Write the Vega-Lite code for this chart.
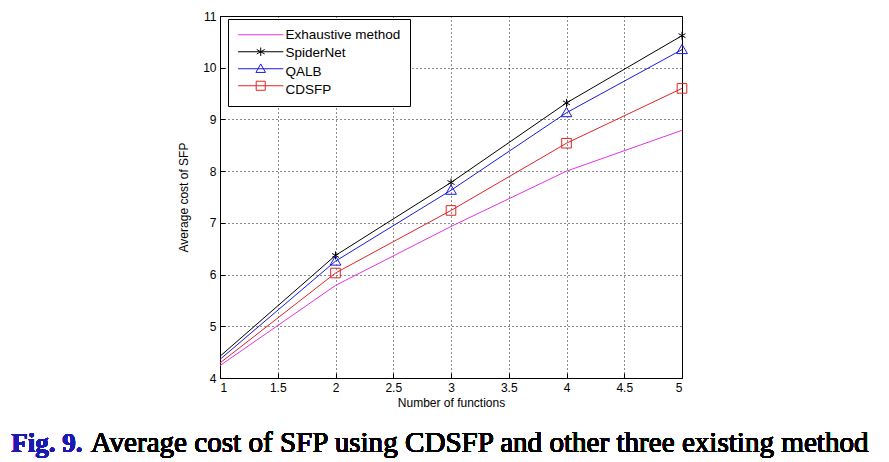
{
  "$schema": "https://vega.github.io/schema/vega-lite/v6.json",
  "autosize": "none",
  "width": 462,
  "height": 362,
  "padding": {"left": 220, "top": 16, "right": 207, "bottom": 84},
  "background": "white",
  "config": {
    "view": {"stroke": "black", "strokeWidth": 1},
    "axis": {
      "labelFont": "Liberation Sans",
      "labelFontSize": 12,
      "labelColor": "black",
      "titleFont": "Liberation Sans",
      "titleFontSize": 12,
      "titleFontWeight": "normal",
      "titleColor": "black",
      "domainColor": "black",
      "tickColor": "black",
      "gridColor": "black",
      "gridDash": [1, 3],
      "gridOpacity": 0.9
    },
    "legend": {
      "padding": 9,
      "symbolSize": 128,
      "symbolOffset": 0,
      "symbolStrokeWidth": 1,
      "symbolFillColor": "transparent",
      "labelOffset": 35,
      "labelFont": "Liberation Sans",
      "labelFontSize": 13.5,
      "labelColor": "black",
      "rowPadding": 3.5
    }
  },
  "data": {
    "values": [
      {"series": "Exhaustive method", "x": 1, "y": 4.24},
      {"series": "Exhaustive method", "x": 2, "y": 5.79},
      {"series": "Exhaustive method", "x": 3, "y": 6.93},
      {"series": "Exhaustive method", "x": 4, "y": 8.0},
      {"series": "Exhaustive method", "x": 5, "y": 8.79},
      {"series": "SpiderNet", "x": 1, "y": 4.42},
      {"series": "SpiderNet", "x": 2, "y": 6.37},
      {"series": "SpiderNet", "x": 3, "y": 7.78},
      {"series": "SpiderNet", "x": 4, "y": 9.32},
      {"series": "SpiderNet", "x": 5, "y": 10.62},
      {"series": "QALB", "x": 1, "y": 4.36},
      {"series": "QALB", "x": 2, "y": 6.26},
      {"series": "QALB", "x": 3, "y": 7.63},
      {"series": "QALB", "x": 4, "y": 9.13},
      {"series": "QALB", "x": 5, "y": 10.35},
      {"series": "CDSFP", "x": 1, "y": 4.29},
      {"series": "CDSFP", "x": 2, "y": 6.03},
      {"series": "CDSFP", "x": 3, "y": 7.24},
      {"series": "CDSFP", "x": 4, "y": 8.54},
      {"series": "CDSFP", "x": 5, "y": 9.60}
    ]
  },
  "encoding": {
    "x": {
      "field": "x", "type": "quantitative",
      "scale": {"domain": [1, 5], "nice": false, "zero": false},
      "axis": {"title": "Number of functions", "values": [1, 1.5, 2, 2.5, 3, 3.5, 4, 4.5, 5], "format": "~g", "tickSize": -5, "labelPadding": 9, "titlePadding": 4, "grid": true}
    },
    "y": {
      "field": "y", "type": "quantitative",
      "scale": {"domain": [4, 11], "nice": false, "zero": false},
      "axis": {"title": "Average cost of SFP", "values": [4, 5, 6, 7, 8, 9, 10, 11], "format": "~g", "tickSize": -5, "labelPadding": 9, "titlePadding": 12, "grid": true}
    }
  },
  "resolve": {"scale": {"shape": "independent"}, "legend": {"shape": "independent"}},
  "layer": [
    {
      "mark": {"type": "line", "strokeWidth": 1},
      "encoding": {
        "color": {
          "field": "series", "type": "nominal",
          "scale": {"domain": ["Exhaustive method", "SpiderNet", "QALB", "CDSFP"], "range": ["#e533e5", "#000000", "#1a1ae0", "#e02424"]},
          "legend": null
        },
        "detail": {"field": "series"}
      }
    },
    {
      "transform": [{"filter": "datum.series !== 'Exhaustive method' && datum.x >= 2"}],
      "mark": {"type": "point", "filled": false, "strokeWidth": 1, "opacity": 1, "size": 64},
      "encoding": {
        "color": {"field": "series", "type": "nominal", "legend": null},
        "shape": {
          "field": "series", "type": "nominal",
          "scale": {"domain": ["Exhaustive method", "SpiderNet", "QALB", "CDSFP"], "range": ["M0,0", "M0,-1V1M-0.87,-0.5L0.87,0.5M-0.87,0.5L0.87,-0.5", "M0,-1.3L1.35,1H-1.35Z", "M-1.2,-1.2H1.2V1.2H-1.2Z"]},
          "legend": null
        }
      }
    },
    {
      "transform": [{"filter": "false"}],
      "mark": {"type": "point", "filled": false, "strokeWidth": 1, "opacity": 1, "size": 128, "color": "#e533e5"},
      "encoding": {
        "shape": {
          "field": "series", "type": "nominal",
          "scale": {"domain": ["Exhaustive method", "SpiderNet", "QALB", "CDSFP"], "range": ["M-1,0H7", "M0,0", "M0,0", "M0,0"]},
          "legend": {"title": null, "orient": "none", "legendX": 8, "legendY": 3, "strokeColor": "black", "fillColor": "white"}
        }
      }
    },
    {
      "transform": [{"filter": "false"}],
      "mark": {"type": "point", "filled": false, "strokeWidth": 1, "opacity": 1, "size": 128, "color": "#000000"},
      "encoding": {
        "shape": {
          "field": "series", "type": "nominal",
          "scale": {"domain": ["SpiderNet"], "range": ["M-1,0H7M3,-0.75V0.75M2.3,-0.4L3.7,0.4M2.3,0.4L3.7,-0.4"]},
          "legend": {"title": null, "orient": "none", "legendX": 8, "legendY": 20, "labelOpacity": 0, "fillColor": "transparent"}
        }
      }
    },
    {
      "transform": [{"filter": "false"}],
      "mark": {"type": "point", "filled": false, "strokeWidth": 1, "opacity": 1, "size": 128, "color": "#1a1ae0"},
      "encoding": {
        "shape": {
          "field": "series", "type": "nominal",
          "scale": {"domain": ["QALB"], "range": ["M-1,0H7M3,-0.85L3.85,0.65H2.15Z"]},
          "legend": {"title": null, "orient": "none", "legendX": 8, "legendY": 37, "labelOpacity": 0, "fillColor": "transparent"}
        }
      }
    },
    {
      "transform": [{"filter": "false"}],
      "mark": {"type": "point", "filled": false, "strokeWidth": 1, "opacity": 1, "size": 128, "color": "#e02424"},
      "encoding": {
        "shape": {
          "field": "series", "type": "nominal",
          "scale": {"domain": ["CDSFP"], "range": ["M-1,0H7M2.2,-0.8H3.8V0.8H2.2Z"]},
          "legend": {"title": null, "orient": "none", "legendX": 8, "legendY": 54, "labelOpacity": 0, "fillColor": "transparent"}
        }
      }
    },
    {
      "mark": {"type": "text", "font": "Liberation Serif", "fontSize": 27, "fontWeight": "bold", "color": "#1a1ab0", "align": "left", "baseline": "alphabetic"},
      "encoding": {
        "x": {"datum": -0.807, "type": "quantitative"},
        "y": {"datum": 2.57, "type": "quantitative"},
        "text": {"value": "Fig. 9."}
      }
    },
    {
      "mark": {"type": "text", "font": "Liberation Serif", "fontSize": 29.1, "color": "black", "align": "left", "baseline": "alphabetic"},
      "encoding": {
        "x": {"datum": -0.12, "type": "quantitative"},
        "y": {"datum": 2.57, "type": "quantitative"},
        "text": {"value": "Average cost of SFP using CDSFP and other three existing method"}
      }
    }
  ]
}
